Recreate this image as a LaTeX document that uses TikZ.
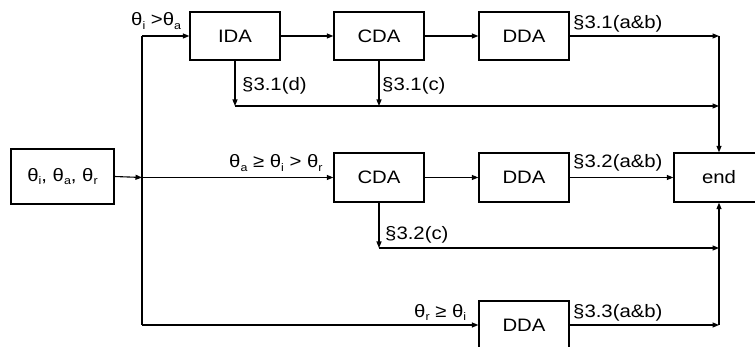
\documentclass[tikz,border=0pt]{standalone}
\usepackage{fontspec}
\setmainfont[FakeStretch=1.13]{Liberation Sans}
\usetikzlibrary{arrows.meta}
\newcommand\sbx[1]{\raisebox{-0.35ex}{\fontsize{11}{12}\selectfont #1}}
\begin{document}
\begin{tikzpicture}[x=1pt,y=-1pt,
  box/.style={draw,line width=1.3pt,minimum width=90pt,minimum height=48pt,inner sep=0pt,font=\fontsize{18}{21}\selectfont},
  ln/.style={line width=1.1pt},
  arr/.style={ln,-{Triangle[length=6.5pt,width=5pt]}},
  lab/.style={anchor=base west,inner sep=0pt,font=\fontsize{18}{21}\selectfont}]
\clip (0,0) rectangle (755,347);
% boxes
\node[box,minimum width=103pt,minimum height=55pt] (in) at (62.5,176.5) {θ\sbx{i}, θ\sbx{a}, θ\sbx{r}};
\node[box] (ida) at (235,36) {IDA};
\node[box] (cda1) at (379,36) {CDA};
\node[box] (dda1) at (524,36) {DDA};
\node[box,minimum height=49pt] (cda2) at (379,177.5) {CDA};
\node[box,minimum height=49pt] (dda2) at (524,177.5) {DDA};
\node[box,minimum height=49pt] (end) at (719,177.5) {end};
\node[box] (dda3) at (524,325) {DDA};
% coordinates
\coordinate (t1) at (142,36);
\coordinate (t2) at (142,177.5);
\coordinate (t3) at (142,325);
\coordinate (r1a) at (235,106);
\coordinate (r1b) at (379,106);
\coordinate (r1e) at (719,106);
\coordinate (e1) at (719,36);
\coordinate (r2a) at (379,248);
\coordinate (r2e) at (719,248);
\coordinate (e3) at (719,325);
% trunk
\draw[ln] (t1) -- (t3);
\draw[arr] (in.east) -- (t2);
\draw[arr] (t1) -- (ida.west);
\draw[arr] (t2) -- (cda2.west);
\draw[arr] (t3) -- (dda3.west);
% top row
\draw[arr] (ida) -- (cda1);
\draw[arr] (cda1) -- (dda1);
\draw[arr] (dda1.east) -- (e1);
\draw[arr] (e1) -- (end.north);
\draw[arr] (ida.south) -- (r1a);
\draw[arr] (cda1.south) -- (r1b);
\draw[arr] (r1a) -- (r1e);
% middle row
\draw[arr] (cda2) -- (dda2);
\draw[arr] (dda2) -- (end);
\draw[arr] (cda2.south) -- (r2a);
\draw[arr] (r2a) -- (r2e);
% bottom row
\draw[arr] (dda3.east) -- (e3);
\draw[arr] (e3) -- (end.south);
% labels
\node[lab] (l1) at (131,26) {θ\sbx{i} >θ\sbx{a}};
\node[lab] (l2) at (229,168) {θ\sbx{a} ≥ θ\sbx{i} > θ\sbx{r}};
\node[lab] (l3) at (414,317) {θ\sbx{r} ≥ θ\sbx{i}};
\node[lab] (l4) at (242,91) {§3.1(d)};
\node[lab] (l5) at (382,91) {§3.1(c)};
\node[lab] (l6) at (573,29) {§3.1(a\&b)};
\node[lab] (l7) at (573,168) {§3.2(a\&b)};
\node[lab] (l8) at (385,240) {§3.2(c)};
\node[lab] (l9) at (573,317) {§3.3(a\&b)};
\end{tikzpicture}
\end{document}
